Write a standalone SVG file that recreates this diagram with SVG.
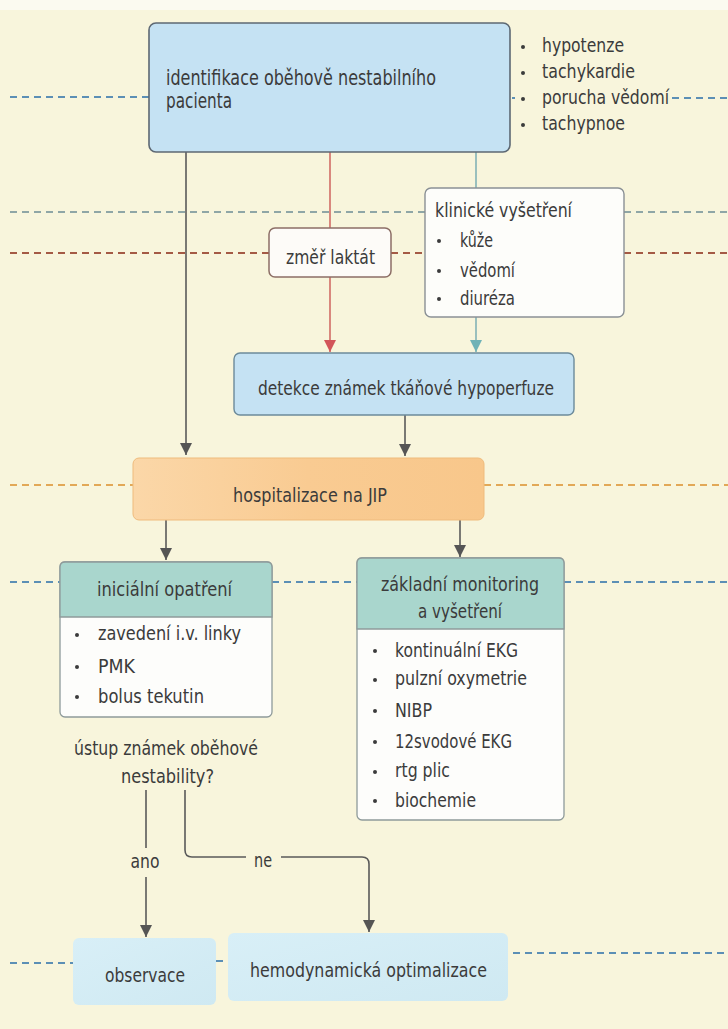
<svg xmlns="http://www.w3.org/2000/svg" width="728" height="1029" viewBox="0 0 728 1029">
<defs>
<style>
text{font-family:"Liberation Sans Narrow","DejaVu Sans Condensed","Liberation Sans",sans-serif;font-size:20px;fill:#3b3b3b}
.t19{font-size:21px}
.sm{font-size:19px}
.c{text-anchor:middle}
.dash{fill:none;stroke-width:2;stroke-dasharray:7 5}
.blue{stroke:#5c8fb5}
.green{stroke:#8fa6a6}
.brown{stroke:#a45a45}
.orange{stroke:#e2a857}
.ln{fill:none;stroke:#5a5a5a;stroke-width:1.6}
.red{fill:none;stroke:#cc5a55;stroke-width:1.4}
.teal{fill:none;stroke:#72aab0;stroke-width:1.4}
.b{fill:#3b3b3b}
</style>
<marker id="ag" markerUnits="userSpaceOnUse" markerWidth="12" markerHeight="14" refX="12" refY="6" orient="auto" viewBox="0 0 12 12"><path d="M0,0 L12,6 L0,12 z" fill="#555"/></marker>
<marker id="ar" markerUnits="userSpaceOnUse" markerWidth="12" markerHeight="14" refX="12" refY="6" orient="auto" viewBox="0 0 12 12"><path d="M0,0 L12,6 L0,12 z" fill="#d2555a"/></marker>
<marker id="at" markerUnits="userSpaceOnUse" markerWidth="12" markerHeight="14" refX="12" refY="6" orient="auto" viewBox="0 0 12 12"><path d="M0,0 L12,6 L0,12 z" fill="#6fb2b6"/></marker>
<linearGradient id="og" x1="0" y1="0" x2="1" y2="0"><stop offset="0" stop-color="#fbd7a8"/><stop offset="0.5" stop-color="#f9cb92"/><stop offset="1" stop-color="#f8c78b"/></linearGradient>
<linearGradient id="bg" x1="0" y1="0" x2="1" y2="1"><stop offset="0" stop-color="#d8eff7"/><stop offset="1" stop-color="#cfe9f2"/></linearGradient>
</defs>
<rect x="0" y="0" width="728" height="1029" fill="#f8f5dc"/>
<rect x="0" y="0" width="728" height="10" fill="#fbfaf0"/>

<g id="dashed-lines">
<path class="dash blue" d="M10,97 H149 M512,98 H515 M672,98 H728"/>
<path class="dash green" d="M10,212 H425 M624,212 H728"/>
<path class="dash brown" d="M10,253 H269 M391,253 H425 M624,253 H728"/>
<path class="dash orange" d="M10,485 H133 M484,485 H728"/>
<path class="dash blue" d="M10,582 H60 M272,582 H357 M564,582 H728"/>
<path class="dash blue" d="M10,963 H73 M216,961 H227 M513,953 H728"/>
</g>

<g id="connectors">
<path class="ln" d="M186,152 V455" marker-end="url(#ag)"/>
<path class="red" d="M330,152 V228"/>
<path class="red" d="M330,277 V352" marker-end="url(#ar)"/>
<path class="teal" d="M476,152 V188"/>
<path class="teal" d="M476,317 V352" marker-end="url(#at)"/>
<path class="ln" d="M405,415 V456" marker-end="url(#ag)"/>
<path class="ln" d="M166,520 V560" marker-end="url(#ag)"/>
<path class="ln" d="M460,520 V557" marker-end="url(#ag)"/>
<path class="ln" d="M146,790 V848"/>
<path class="ln" d="M146,877 V937" marker-end="url(#ag)"/>
<path class="ln" d="M185,790 V850 Q185,857 192,857 H246"/>
<path class="ln" d="M281,857 H362 Q369,857 369,864 V932" marker-end="url(#ag)"/>
<text x="145" y="868" class="c" textLength="29" lengthAdjust="spacingAndGlyphs">ano</text>
<text x="263" y="867" class="c" textLength="18" lengthAdjust="spacingAndGlyphs">ne</text>
</g>

<g id="node-identifikace">
<rect x="149" y="23" width="361" height="129" rx="7" fill="#c5e2f3" stroke="#5d6873" stroke-width="1.6"/>
<text x="166" y="85" class="t19" textLength="270" lengthAdjust="spacingAndGlyphs">identifikace oběhově nestabilního</text>
<text x="166" y="108" class="t19" textLength="66" lengthAdjust="spacingAndGlyphs">pacienta</text>
</g>

<g id="node-priznaky">
<circle cx="523" cy="47" r="2" class="b"/>
<text x="542" y="52" class="sm" textLength="82" lengthAdjust="spacingAndGlyphs">hypotenze</text>
<circle cx="523" cy="73" r="2" class="b"/>
<text x="542" y="78" class="sm" textLength="93" lengthAdjust="spacingAndGlyphs">tachykardie</text>
<circle cx="523" cy="99" r="2" class="b"/>
<text x="542" y="104" class="sm" textLength="127" lengthAdjust="spacingAndGlyphs">porucha vědomí</text>
<circle cx="523" cy="125" r="2" class="b"/>
<text x="542" y="130" class="sm" textLength="83" lengthAdjust="spacingAndGlyphs">tachypnoe</text>
</g>

<g id="node-klinicke">
<rect x="425" y="188" width="199" height="129" rx="6" fill="#fdfdfa" stroke="#8a9095" stroke-width="1.4"/>
<text x="435" y="217" textLength="137" lengthAdjust="spacingAndGlyphs">klinické vyšetření</text>
<circle cx="439" cy="241" r="2" class="b"/>
<text x="460" y="247" textLength="33" lengthAdjust="spacingAndGlyphs">kůže</text>
<circle cx="439" cy="271" r="2" class="b"/>
<text x="460" y="277" textLength="55" lengthAdjust="spacingAndGlyphs">vědomí</text>
<circle cx="439" cy="299" r="2" class="b"/>
<text x="460" y="305" textLength="55" lengthAdjust="spacingAndGlyphs">diuréza</text>
</g>

<g id="node-laktat">
<rect x="269" y="228" width="122" height="49" rx="6" fill="#fdfbf8" stroke="#8c6e66" stroke-width="1.5"/>
<text x="286" y="264" textLength="89" lengthAdjust="spacingAndGlyphs">změř laktát</text>
</g>

<g id="node-detekce">
<rect x="234" y="353" width="340" height="62" rx="6" fill="#c5e2f3" stroke="#6c8a9a" stroke-width="1.4"/>
<text x="258" y="395" textLength="296" lengthAdjust="spacingAndGlyphs">detekce známek tkáňové hypoperfuze</text>
</g>

<g id="node-hospitalizace">
<rect x="133" y="458" width="351" height="62" rx="6" fill="url(#og)" stroke="#efbb7c" stroke-width="1"/>
<text x="233" y="502" textLength="154" lengthAdjust="spacingAndGlyphs">hospitalizace na JIP</text>
</g>

<g id="node-inicialni">
<rect x="60" y="562" width="212" height="155" rx="5" fill="#fdfdfb" stroke="#8e9a9a" stroke-width="1.3"/>
<path d="M60,617 V567 Q60,562 65,562 H267 Q272,562 272,567 V617 Z" fill="#a9d6cd" stroke="#8e9a9a" stroke-width="1.3"/>
<text x="97" y="596" textLength="135" lengthAdjust="spacingAndGlyphs">iniciální opatření</text>
<circle cx="77" cy="635" r="2" class="b"/>
<text x="98" y="640" textLength="143" lengthAdjust="spacingAndGlyphs">zavedení i.v. linky</text>
<circle cx="77" cy="667" r="2" class="b"/>
<text x="98" y="673" textLength="37" lengthAdjust="spacingAndGlyphs">PMK</text>
<circle cx="77" cy="697" r="2" class="b"/>
<text x="98" y="703" textLength="106" lengthAdjust="spacingAndGlyphs">bolus tekutin</text>
</g>

<g id="node-zakladni">
<rect x="357" y="558" width="207" height="262" rx="5" fill="#fdfdfb" stroke="#8e9a9a" stroke-width="1.3"/>
<path d="M357,629 V563 Q357,558 362,558 H559 Q564,558 564,563 V629 Z" fill="#a9d6cd" stroke="#8e9a9a" stroke-width="1.3"/>
<text x="381" y="591" textLength="158" lengthAdjust="spacingAndGlyphs">základní monitoring</text>
<text x="418" y="618" textLength="84" lengthAdjust="spacingAndGlyphs">a vyšetření</text>
<circle cx="375" cy="651" r="2" class="b"/>
<text x="395" y="657" textLength="123" lengthAdjust="spacingAndGlyphs">kontinuální EKG</text>
<circle cx="375" cy="680" r="2" class="b"/>
<text x="395" y="685" textLength="132" lengthAdjust="spacingAndGlyphs">pulzní oxymetrie</text>
<circle cx="375" cy="711" r="2" class="b"/>
<text x="395" y="717" textLength="37" lengthAdjust="spacingAndGlyphs">NIBP</text>
<circle cx="375" cy="742" r="2" class="b"/>
<text x="395" y="748" textLength="117" lengthAdjust="spacingAndGlyphs">12svodové EKG</text>
<circle cx="375" cy="772" r="2" class="b"/>
<text x="395" y="777" textLength="55" lengthAdjust="spacingAndGlyphs">rtg plic</text>
<circle cx="375" cy="801" r="2" class="b"/>
<text x="395" y="807" textLength="81" lengthAdjust="spacingAndGlyphs">biochemie</text>
</g>

<g id="node-otazka">
<text x="74" y="755" textLength="184" lengthAdjust="spacingAndGlyphs">ústup známek oběhové</text>
<text x="121" y="783" textLength="93" lengthAdjust="spacingAndGlyphs">nestability?</text>
</g>

<g id="node-observace">
<rect x="73" y="938" width="143" height="67" rx="6" fill="url(#bg)"/>
<text x="105" y="982" textLength="80" lengthAdjust="spacingAndGlyphs">observace</text>
</g>

<g id="node-hemodynamicka">
<rect x="228" y="933" width="280" height="68" rx="6" fill="url(#bg)"/>
<text x="250" y="977" textLength="237" lengthAdjust="spacingAndGlyphs">hemodynamická optimalizace</text>
</g>
</svg>
